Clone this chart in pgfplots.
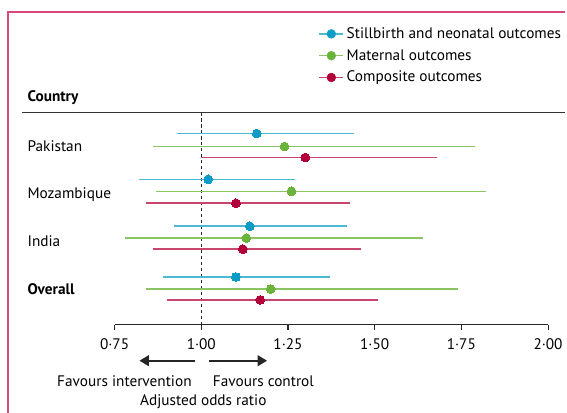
\documentclass[border=0pt]{standalone}
\usepackage{pgfplots}
\pgfplotsset{compat=1.18}
\usepackage{pgfplotstable}
\usetikzlibrary{arrows.meta}
\usepackage{fontspec}
\setmainfont{PT Sans}
\definecolor{bl}{HTML}{0E9CC6}
\definecolor{bll}{HTML}{4BB8D4}
\definecolor{gr}{HTML}{6AB43C}
\definecolor{grl}{HTML}{8BC463}
\definecolor{rd}{HTML}{B1003A}
\definecolor{rdl}{HTML}{C8466E}
\definecolor{frame}{HTML}{D9487A}
\newcommand\fs{\fontsize{11.5}{13}\selectfont}
% y = -(pixel row)
\pgfplotstableread{
y x lo hi
-134 1.16 0.93 1.44
-180 1.02 0.82 1.27
-227 1.14 0.92 1.42
-278 1.10 0.89 1.37
}\blue
\pgfplotstableread{
y x lo hi
-147 1.24 0.86 1.79
-192 1.26 0.87 1.82
-239 1.13 0.78 1.64
-290 1.20 0.84 1.74
}\green
\pgfplotstableread{
y x lo hi
-158 1.30 1.00 1.68
-204 1.10 0.84 1.43
-250 1.12 0.86 1.46
-301 1.17 0.90 1.51
}\red
\begin{document}
\begin{tikzpicture}[font=\fs]
\begin{scope}[x=0.75pt,y=-0.75pt]
\useasboundingbox (0,0) rectangle (567,414);
\draw[frame,line width=1.2pt] (8,414) -- (8,12) -- (567,12);
\draw[black!80,line width=0.9pt] (22,113) -- (567,113);
\node[anchor=base west,font=\fs\bfseries] at (23,102) {Country};
\node[anchor=base west] at (23,152) {Pakistan};
\node[anchor=base west] at (23,199) {Mozambique};
\node[anchor=base west] at (23,247) {India};
\node[anchor=base west,font=\fs\bfseries] at (23,296) {Overall};
\draw[black!85, line width=1.3pt, -{Triangle[length=7pt,width=8pt]}] (196,362) -- (140,362);
\draw[black!85, line width=1.3pt, -{Triangle[length=7pt,width=8pt]}] (210,362) -- (268,362);
\node[anchor=base east] at (197,388) {Favours intervention};
\node[anchor=base west] at (209,388) {Favours control};
\node[anchor=base] at (204,407) {Adjusted odds ratio};
\end{scope}
\begin{axis}[
  at={(86.25pt,-244.5pt)}, anchor=south west,
  scale only axis, width=326.25pt, height=159.75pt,
  xmin=0.75, xmax=2, ymin=-326, ymax=-113,
  axis x line*=bottom, axis y line=none,
  x axis line style={-, black!85, line width=0.8pt},
  xtick={0.75,1,1.25,1.5,1.75,2},
  xticklabels={0·75,1·00,1·25,1·50,1·75,2·00},
  tick align=outside, major tick length=4pt,
  tick style={black!85, line width=0.8pt},
  xticklabel style={font=\fs, yshift=-2.5pt},
  clip=false,
  legend style={at={(0.470,1.415)}, anchor=north west, draw=none, fill=none,
    font=\fs, row sep=2.8pt, inner sep=0pt,
    nodes={inner xsep=2pt}},
  legend cell align=left,
]
\draw[black!85, dashed, line width=0.6pt, dash pattern=on 2.5pt off 2pt] (axis cs:1,-326) -- (axis cs:1,-113);
\addplot[only marks, mark=*, mark size=3.3pt, mark options={draw=bl, fill=bl, line width=0pt},
  legend image code/.code={\draw[bll, line width=1.2pt] (0pt,0pt) -- (18pt,0pt); \fill[bl] (9pt,0pt) circle (3.3pt);},
  error bars/.cd, x dir=both, x explicit, error mark=none,
  error bar style={bll, line width=1.2pt}]
  table[x=x, y=y, x error plus expr=\thisrow{hi}-\thisrow{x}, x error minus expr=\thisrow{x}-\thisrow{lo}] {\blue};
\addplot[only marks, mark=*, mark size=3.3pt, mark options={draw=gr, fill=gr, line width=0pt},
  legend image code/.code={\draw[grl, line width=1.2pt] (0pt,0pt) -- (18pt,0pt); \fill[gr] (9pt,0pt) circle (3.3pt);},
  error bars/.cd, x dir=both, x explicit, error mark=none,
  error bar style={grl, line width=1.2pt}]
  table[x=x, y=y, x error plus expr=\thisrow{hi}-\thisrow{x}, x error minus expr=\thisrow{x}-\thisrow{lo}] {\green};
\addplot[only marks, mark=*, mark size=3.3pt, mark options={draw=rd, fill=rd, line width=0pt},
  legend image code/.code={\draw[rdl, line width=1.2pt] (0pt,0pt) -- (18pt,0pt); \fill[rd] (9pt,0pt) circle (3.3pt);},
  error bars/.cd, x dir=both, x explicit, error mark=none,
  error bar style={rdl, line width=1.2pt}]
  table[x=x, y=y, x error plus expr=\thisrow{hi}-\thisrow{x}, x error minus expr=\thisrow{x}-\thisrow{lo}] {\red};
\legend{Stillbirth and neonatal outcomes, Maternal outcomes, Composite outcomes}
\end{axis}
\end{tikzpicture}
\end{document}
